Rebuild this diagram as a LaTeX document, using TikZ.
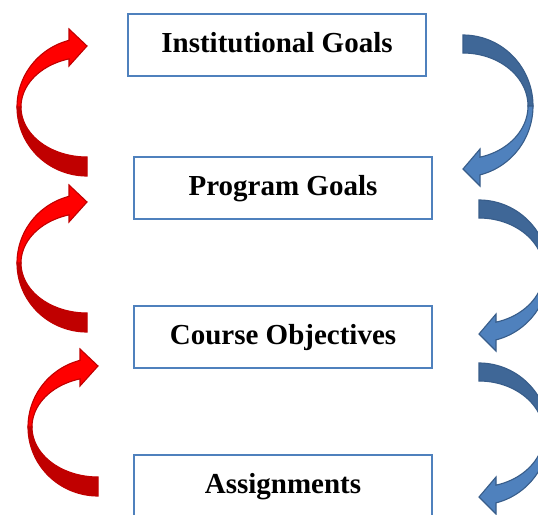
\documentclass[tikz,border=0pt]{standalone}
\usepackage{fontspec}
\setmainfont{Liberation Serif}
\definecolor{boxline}{HTML}{4F81BD}
\definecolor{redbright}{HTML}{FF0000}
\definecolor{reddark}{HTML}{C00000}
\definecolor{redline}{HTML}{C00000}
\definecolor{bluefront}{HTML}{4F81BD}
\definecolor{blueback}{HTML}{3F6797}
\definecolor{blueline}{HTML}{385D8A}
\tikzset{
  levelbox/.style={draw=boxline, line width=2.2pt, fill=white,
    minimum width=298pt, minimum height=62pt, inner sep=0pt,
    text height=20pt, text depth=6pt,
    font=\fontsize{29}{34}\selectfont\bfseries},
  redpart/.style={draw=redline, line width=1.1pt, line join=miter},
  bluepart/.style={draw=blueline, line width=1.1pt, line join=miter},
  redarrow/.pic={
    % back (tail) part
    \path[redpart, fill=reddark]
      plot[domain=90:180, samples=50, variable=\t] ({70*cos(\t)},{69*sin(\t)})
      -- plot[domain=180:90, samples=50, variable=\t] ({66*cos(\t)},{50*sin(\t)})
      -- cycle;
    % front part with head
    \path[redpart, fill=redbright]
      plot[domain=180:255.1, samples=50, variable=\t] ({70*cos(\t)},{69*sin(\t)})
      -- (-18,-78) -- (0,-61) -- (-18,-41)
      -- plot[domain=254.2:180, samples=50, variable=\t] ({66*cos(\t)},{50*sin(\t)})
      -- cycle;
  },
  bluearrow/.pic={
    % back (tail) part
    \path[bluepart, fill=blueback]
      plot[domain=270:360, samples=50, variable=\t] ({70*cos(\t)},{71*sin(\t)})
      -- plot[domain=360:270, samples=50, variable=\t] ({65*cos(\t)},{53*sin(\t)})
      -- cycle;
    % front part with head
    \path[bluepart, fill=bluefront]
      plot[domain=0:75.94, samples=50, variable=\t] ({70*cos(\t)},{71*sin(\t)})
      -- (17,80) -- (0,63) -- (17,43)
      -- plot[domain=74.84:0, samples=50, variable=\t] ({65*cos(\t)},{53*sin(\t)})
      -- cycle;
  }
}
\begin{document}
\begin{tikzpicture}[x=1pt, y=-1pt]
  \useasboundingbox (0,0) rectangle (538,514);
  \clip (0,0) rectangle (538,514);
  \fill[white] (0,0) rectangle (538,514);

  \node[levelbox] (inst)   at (277,45)  {Institutional Goals};
  \node[levelbox] (prog)   at (283,188) {Program Goals};
  \node[levelbox] (course) at (283,337) {Course Objectives};
  \node[levelbox] (assign) at (283,486) {Assignments};

  \pic (r1) at (87,107)  {redarrow};
  \pic (r2) at (87,263)  {redarrow};
  \pic (r3) at (98,427)  {redarrow};

  \pic (b1) at (463,106) {bluearrow};
  \pic (b2) at (479,271) {bluearrow};
  \pic (b3) at (479,434) {bluearrow};
\end{tikzpicture}
\end{document}
